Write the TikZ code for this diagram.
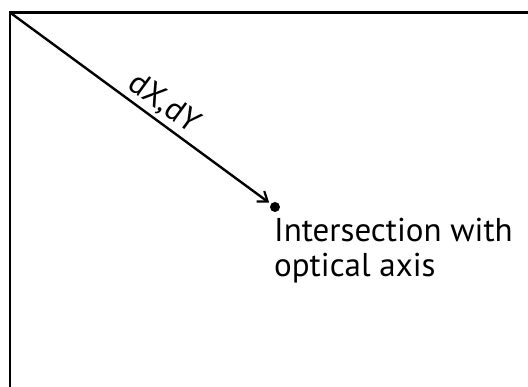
\documentclass[tikz,border=0pt]{standalone}
\usepackage{fontspec}
\setmainfont{PT Sans}
\usetikzlibrary{arrows.meta}
\begin{document}
\begin{tikzpicture}[x=1pt,y=-1pt,
  frameline/.style={line width=2.8pt,line cap=butt},
  ray/.style={line width=2.4pt,-{Straight Barb[length=9pt,width=13pt,line width=2.2pt]}},
  dotnode/.style={circle,fill=black,inner sep=0pt,minimum size=10pt},
  caption/.style={font=\fontsize{33}{35}\selectfont,align=left,inner sep=0pt,anchor=base west}]
\useasboundingbox (0,0) rectangle (528,387);
\coordinate (corner) at (10,12.5);
\coordinate (bl) at (10,390);
\coordinate (tr) at (530,12.5);
\draw[frameline] (bl) -- (corner) -- (tr);
\node[dotnode] (dot) at (275,207) {};
\draw[ray,shorten >=2pt] (corner) -- (dot)
  node[pos=0.55,sloped,above=3pt,font=\fontsize{32}{34}\selectfont,inner sep=0pt] (lbl) {dX,dY};
\node[caption] (cap) at (274,242) {Intersection with};
\node[caption] (cap2) at (274,277) {optical axis};
\end{tikzpicture}
\end{document}
